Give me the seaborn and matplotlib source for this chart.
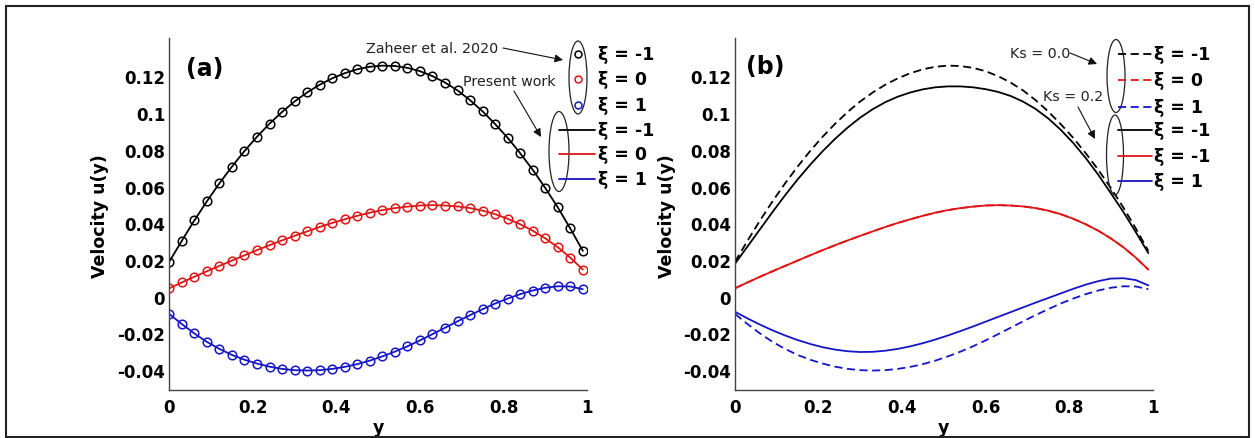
import matplotlib
matplotlib.use("Agg")
import matplotlib.pyplot as plt
import seaborn as sns
from matplotlib.lines import Line2D
from matplotlib.patches import Ellipse, Rectangle, FancyArrowPatch

# ---------------- data ----------------
y_pos = [0.00, 0.03, 0.06, 0.09, 0.12, 0.15, 0.18, 0.21, 0.24, 0.27, 0.30, 0.33,
         0.36, 0.39, 0.42, 0.45, 0.48, 0.51, 0.54, 0.57, 0.60, 0.63, 0.66, 0.69,
         0.72, 0.75, 0.78, 0.81, 0.84, 0.87, 0.90, 0.93, 0.96, 0.99]

# Ks = 0.0 (Zaheer et al. 2020 / present work)
u_xi_m1 = [0.0191, 0.0305, 0.0416, 0.0520, 0.0618, 0.0709, 0.0794, 0.0872, 0.0943,
           0.1007, 0.1064, 0.1113, 0.1155, 0.1190, 0.1218, 0.1239, 0.1253, 0.1259,
           0.1257, 0.1247, 0.1229, 0.1202, 0.1167, 0.1124, 0.1071, 0.1010, 0.0941,
           0.0866, 0.0782, 0.0692, 0.0593, 0.0487, 0.0372, 0.0250]
u_xi_0 = [0.0046, 0.0078, 0.0109, 0.0139, 0.0168, 0.0197, 0.0226, 0.0254, 0.0281,
          0.0307, 0.0332, 0.0356, 0.0380, 0.0402, 0.0422, 0.0441, 0.0458, 0.0472,
          0.0483, 0.0491, 0.0497, 0.0499, 0.0497, 0.0492, 0.0483, 0.0469, 0.0450,
          0.0425, 0.0395, 0.0360, 0.0318, 0.0270, 0.0213, 0.0148]
u_xi_p1 = [-0.0094, -0.0149, -0.0200, -0.0246, -0.0284, -0.0317, -0.0343, -0.0364,
           -0.0381, -0.0393, -0.0400, -0.0402, -0.0400, -0.0393, -0.0382, -0.0367,
           -0.0348, -0.0325, -0.0299, -0.0270, -0.0238, -0.0204, -0.0169, -0.0134,
           -0.0100, -0.0068, -0.0037, -0.0010, 0.0014, 0.0034, 0.0049, 0.0057,
           0.0056, 0.0041]

# Ks = 0.2
u02_xi_m1 = [0.0180, 0.0274, 0.0368, 0.0462, 0.0553, 0.0639, 0.0719, 0.0793, 0.0861,
             0.0922, 0.0976, 0.1022, 0.1060, 0.1090, 0.1113, 0.1130, 0.1141, 0.1146,
             0.1146, 0.1141, 0.1131, 0.1116, 0.1094, 0.1063, 0.1023, 0.0972, 0.0910,
             0.0838, 0.0756, 0.0665, 0.0565, 0.0463, 0.0352, 0.0238]
u02_xi_0 = [0.0046, 0.0078, 0.0109, 0.0139, 0.0168, 0.0197, 0.0226, 0.0254, 0.0281,
            0.0307, 0.0332, 0.0356, 0.0380, 0.0402, 0.0422, 0.0441, 0.0458, 0.0472,
            0.0483, 0.0491, 0.0497, 0.0499, 0.0497, 0.0492, 0.0483, 0.0469, 0.0450,
            0.0425, 0.0395, 0.0360, 0.0318, 0.0270, 0.0213, 0.0148]
u02_xi_p1 = [-0.0082, -0.0118, -0.0152, -0.0183, -0.0211, -0.0236, -0.0257, -0.0275,
             -0.0288, -0.0297, -0.0301, -0.0300, -0.0294, -0.0284, -0.0270, -0.0253,
             -0.0233, -0.0211, -0.0187, -0.0162, -0.0136, -0.0110, -0.0084, -0.0058,
             -0.0032, -0.0007, 0.0018, 0.0043, 0.0066, 0.0085, 0.0099, 0.0101,
             0.0091, 0.0062]

x_ticks = [0, 0.2, 0.4, 0.6, 0.8, 1]
x_tick_labels = ["0", "0.2", "0.4", "0.6", "0.8", "1"]
y_ticks = [-0.04, -0.02, 0, 0.02, 0.04, 0.06, 0.08, 0.1, 0.12]
y_tick_labels = ["-0.04", "-0.02", "0", "0.02", "0.04", "0.06", "0.08", "0.1", "0.12"]

legend_a = ["ξ = -1", "ξ = 0", "ξ = 1", "ξ = -1", "ξ = 0", "ξ = 1"]
legend_b = ["ξ = -1", "ξ = 0", "ξ = 1", "ξ = -1", "ξ = -1", "ξ = 1"]

# ---------------- style ----------------
sns.set_style("white")
plt.rcParams["font.family"] = ["DejaVu Sans"]
plt.rcParams["text.color"] = "black"
plt.rcParams["axes.labelcolor"] = "black"
plt.rcParams["xtick.color"] = "black"
plt.rcParams["ytick.color"] = "black"

BLACK = "#000000"
RED = "#e01515"
BLUE = "#1515c8"
colors = [BLACK, RED, BLUE]

W, H = 1255, 439
fig = plt.figure(figsize=(W / 100, H / 100), dpi=100)


def fx(x):
    return x / W


def fy(y):
    return 1 - y / H


ax_a = fig.add_axes([fx(169.3), fy(391), (587 - 169.3) / W, (391 - 39.3) / H])
ax_b = fig.add_axes([fx(735), fy(391), (1152.5 - 735) / W, (391 - 39.3) / H])

LW = 1.3
DASH = (0, (4.5, 2.5))

# panel (a)
for vals, c in zip([u_xi_m1, u_xi_0, u_xi_p1], colors):
    sns.lineplot(x=y_pos, y=vals, ax=ax_a, color=c, lw=LW, estimator=None,
                 sort=False, legend=False)
    sns.lineplot(x=y_pos, y=vals, ax=ax_a, color=c, marker="o", linestyle="none",
                 markersize=6.2, markerfacecolor="none", markeredgecolor=c,
                 markeredgewidth=1.1, estimator=None, sort=False, legend=False)

# panel (b)
for vals, c in zip([u_xi_m1, u_xi_0, u_xi_p1], colors):
    sns.lineplot(x=y_pos, y=vals, ax=ax_b, color=c, lw=LW, linestyle=DASH,
                 estimator=None, sort=False, legend=False)
for vals, c in zip([u02_xi_m1, u02_xi_0, u02_xi_p1], colors):
    sns.lineplot(x=y_pos, y=vals, ax=ax_b, color=c, lw=LW, estimator=None,
                 sort=False, legend=False)

for ax in (ax_a, ax_b):
    ax.set_xlim(0, 1)
    ax.set_ylim(-0.0508, 0.1408)
    ax.set_xticks(x_ticks, labels=x_tick_labels, fontsize=12, fontweight="bold")
    ax.set_yticks(y_ticks, labels=y_tick_labels, fontsize=12, fontweight="bold")
    ax.tick_params(axis="both", direction="in", length=4, width=0.8, color="#333333",
                   labelcolor="black")
    ax.tick_params(axis="x", pad=6)
    ax.tick_params(axis="y", pad=3)
    for s in ("top", "right"):
        ax.spines[s].set_visible(False)
    for s in ("left", "bottom"):
        ax.spines[s].set_color("#444444")
        ax.spines[s].set_linewidth(1.0)
    ax.set_facecolor("none")
    ax.set_ylabel("Velocity u(y)", fontsize=12.5, fontweight="bold", color="black")
    ax.set_xlabel("y", fontsize=12.5, fontweight="bold", color="black")
    ax.yaxis.label.set(rotation_mode="default", va="center", ha="center")
    ax.xaxis.label.set(va="center", ha="center")
    ax.xaxis.set_label_coords(0.5, -0.104)

ax_a.yaxis.set_label_coords((100 - 169.3) / 417.7, 0.497)
ax_b.yaxis.set_label_coords((667 - 735) / 417.5, 0.497)

ax_a.text(0.041, (391 - 69) / 351.7, "(a)", transform=ax_a.transAxes, fontsize=17,
          fontweight="bold", va="center", ha="left", color="black")
ax_b.text(0.027, (391 - 67) / 351.7, "(b)", transform=ax_b.transAxes, fontsize=17,
          fontweight="bold", va="center", ha="left", color="black")

# ---------------- legends (manual, figure pixel space) ----------------
rows_a = [55, 80, 106, 131, 155, 180]
for i, (lab, yy) in enumerate(zip(legend_a, rows_a)):
    c = colors[i % 3]
    if i < 3:
        fig.add_artist(Line2D([fx(578)], [fy(yy)], marker="o", ms=5, mfc="none",
                              mec=c, mew=1.1, linestyle="none"))
    else:
        fig.add_artist(Line2D([fx(559), fx(595)], [fy(yy), fy(yy)], color=c, lw=LW))
    fig.text(fx(598), fy(yy), lab, fontsize=12.5, fontweight="bold", va="center",
             ha="left", color="black")

rows_b = [55, 81, 108, 131, 157, 182]
for i, (lab, yy) in enumerate(zip(legend_b, rows_b)):
    c = colors[i % 3]
    ls = DASH if i < 3 else "-"
    fig.add_artist(Line2D([fx(1118), fx(1152)], [fy(yy), fy(yy)], color=c, lw=LW,
                          linestyle=ls))
    fig.text(fx(1154), fy(yy), lab, fontsize=12.5, fontweight="bold", va="center",
             ha="left", color="black")

# ellipses grouping legend entries
for cx, cy, w, h in [(578, 78.5, 18, 73), (559, 152.5, 20, 80),
                     (1116, 77, 18, 73), (1115, 156, 17, 80)]:
    fig.add_artist(Ellipse((fx(cx), fy(cy)), w / W, h / H, fill=False,
                           edgecolor="#222222", lw=0.9, transform=fig.transFigure))

# annotations
arrow = dict(arrowstyle="-|>", color="#111111", lw=0.8, mutation_scale=12,
             shrinkA=0, shrinkB=0)


def annotate(text, txy, hxy, sxy=None, ha="left"):
    fig.text(fx(txy[0]), fy(txy[1]), text, fontsize=10.3, va="center", ha=ha,
             color="#222222")
    s = sxy if sxy is not None else txy
    fig.add_artist(FancyArrowPatch(
        (fx(s[0]), fy(s[1])), (fx(hxy[0]), fy(hxy[1])),
        transform=fig.transFigure, **arrow))


annotate("Zaheer et al. 2020", (366, 49), (563, 61), sxy=(503, 49))
annotate("Present work", (463, 82), (541, 138), sxy=(514, 92))
annotate("Ks = 0.0", (1010, 54), (1097, 65), sxy=(1070, 54))
annotate("Ks = 0.2", (1043, 97), (1095, 140), sxy=(1078, 108))

# outer frame
fig.add_artist(Rectangle((fx(6), fy(437.5)), (1249 - 6) / W, (437.5 - 7) / H,
                         fill=False, edgecolor="#222222", lw=1.5,
                         transform=fig.transFigure))

fig.savefig("out.png", dpi=100, facecolor="white")
